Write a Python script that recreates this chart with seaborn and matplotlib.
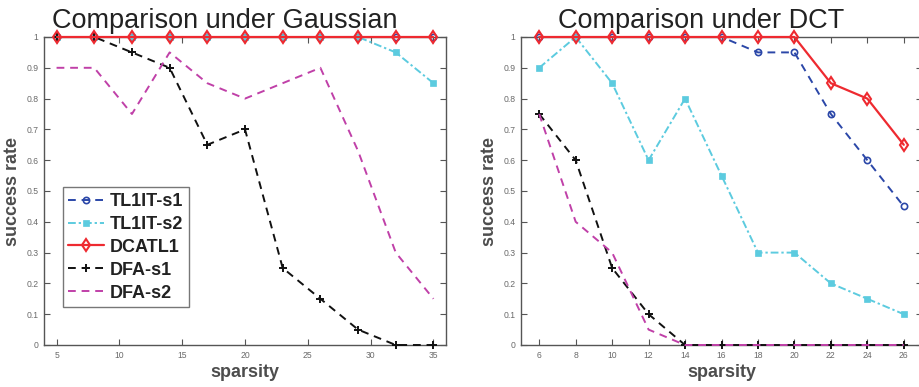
import matplotlib
matplotlib.use("Agg")
import matplotlib.pyplot as plt
import seaborn as sns
import pandas as pd

# ---- data ----
x_gauss = [5, 8, 11, 14, 17, 20, 23, 26, 29, 32, 35]
gauss_tl1it_s1 = [1, 1, 1, 1, 1, 1, 1, 1, 1, 1, 1]
gauss_tl1it_s2 = [1, 1, 1, 1, 1, 1, 1, 1, 1, 0.95, 0.85]
gauss_dcatl1 = [1, 1, 1, 1, 1, 1, 1, 1, 1, 1, 1]
gauss_dfa_s1 = [1, 1, 0.95, 0.9, 0.65, 0.7, 0.25, 0.15, 0.05, 0, 0]
gauss_dfa_s2 = [0.9, 0.9, 0.75, 0.95, 0.85, 0.8, 0.85, 0.9, 0.63, 0.3, 0.15]

x_dct = [6, 8, 10, 12, 14, 16, 18, 20, 22, 24, 26]
dct_tl1it_s1 = [1, 1, 1, 1, 1, 1, 0.95, 0.95, 0.75, 0.6, 0.45]
dct_tl1it_s2 = [0.9, 1, 0.85, 0.6, 0.8, 0.55, 0.3, 0.3, 0.2, 0.15, 0.1]
dct_dcatl1 = [1, 1, 1, 1, 1, 1, 1, 1, 0.85, 0.8, 0.65]
dct_dfa_s1 = [0.75, 0.6, 0.25, 0.1, 0, 0, 0, 0, 0, 0, 0]
dct_dfa_s2 = [0.75, 0.4, 0.3, 0.05, 0, 0, 0, 0, 0, 0, 0]

series_names = ["TL1IT-s1", "TL1IT-s2", "DCATL1", "DFA-s1", "DFA-s2"]
titles = ["Comparison under Gaussian", "Comparison under DCT"]
gauss_ticks = [5, 10, 15, 20, 25, 30, 35]
dct_ticks = [6, 8, 10, 12, 14, 16, 18, 20, 22, 24, 26]
y_ticks = [0, 0.1, 0.2, 0.3, 0.4, 0.5, 0.6, 0.7, 0.8, 0.9, 1]
y_ticklabels = ["0", "0.1", "0.2", "0.3", "0.4", "0.5", "0.6", "0.7", "0.8", "0.9", "1"]

# ---- styles ----
styles = {
    "TL1IT-s1": dict(color="#2b47a8", ls=(0, (4, 3)), marker="o", mfc="none", ms=4.5, mew=1.2, lw=1.4),
    "TL1IT-s2": dict(color="#5ccbdf", ls=(0, (4, 1.5, 1.2, 1.5)), marker="s", mfc="#5ccbdf", ms=4.5, mew=0.5, lw=1.4),
    "DCATL1": dict(color="#ee2a30", ls="-", marker="d", mfc="none", ms=6, mew=1.5, lw=1.6),
    "DFA-s1": dict(color="#111111", ls=(0, (4, 3)), marker="+", ms=5.5, mew=1.4, lw=1.4),
    "DFA-s2": dict(color="#c040a8", ls=(0, (4, 3)), marker=None, lw=1.4),
}

sns.set_style("ticks")
plt.rcParams["font.family"] = ["Liberation Sans", "DejaVu Sans"]

fig = plt.figure(figsize=(9.19, 3.87), dpi=100)
ax1 = fig.add_axes([44 / 919, 1 - 345 / 387, (446 - 44) / 919, (345 - 37) / 387])
ax2 = fig.add_axes([521 / 919, 1 - 345 / 387, (922 - 521) / 919, (345 - 37) / 387])

panels = [
    (ax1, x_gauss, [gauss_tl1it_s1, gauss_tl1it_s2, gauss_dcatl1, gauss_dfa_s1, gauss_dfa_s2], (4, 36), gauss_ticks),
    (ax2, x_dct, [dct_tl1it_s1, dct_tl1it_s2, dct_dcatl1, dct_dfa_s1, dct_dfa_s2], (5, 27), dct_ticks),
]

for i, (ax, xs, ys, xlim, xt) in enumerate(panels):
    for name, y in zip(series_names, ys):
        df = pd.DataFrame({"sparsity": xs, "rate": y})
        st = styles[name]
        sns.lineplot(data=df, x="sparsity", y="rate", ax=ax, label=name,
                     color=st["color"], linestyle=st["ls"], marker=st["marker"],
                     markerfacecolor=st.get("mfc", st["color"]), markeredgecolor=st["color"],
                     markersize=st.get("ms", 5), markeredgewidth=st.get("mew", 1), linewidth=st["lw"],
                     clip_on=False, zorder=3 if name != "DCATL1" else 4)
    ax.set_xlim(*xlim)
    ax.set_ylim(0, 1)
    ax.set_xticks(xt)
    ax.set_xticklabels([str(t) for t in xt])
    ax.set_yticks(y_ticks)
    ax.set_yticklabels(y_ticklabels)
    ax.tick_params(direction="in", length=4, width=0.8, colors="#555555", labelcolor="#6a6a6a",
                   labelsize=6.2, top=True, right=True, pad=4)
    for sp in ax.spines.values():
        sp.set_visible(True)
        sp.set_color("#555555")
        sp.set_linewidth(1.0)
    ax.set_xlabel("sparsity", fontsize=13, fontweight="bold", color="#4d4d4d", labelpad=3)
    ax.set_ylabel("success rate", fontsize=13, fontweight="bold", color="#4d4d4d", labelpad=4)
    ax.text(0.45, 1.01, titles[i], transform=ax.transAxes, ha="center", va="bottom",
            fontsize=19.5, color="#222222")
    if i == 0:
        leg = ax.legend(loc="lower left", bbox_to_anchor=(0.047, 0.123),
                        prop=dict(weight="bold", size=13), frameon=True, fancybox=False,
                        handlelength=2.0, handletextpad=0.3, borderpad=0.3, labelspacing=0.33,
                        borderaxespad=0)
        leg.get_frame().set_edgecolor("#555555")
        leg.get_frame().set_linewidth(1.0)
        for t in leg.get_texts():
            t.set_color("#222222")
    else:
        ax.get_legend().remove()

fig.savefig("out.png", dpi=100)
